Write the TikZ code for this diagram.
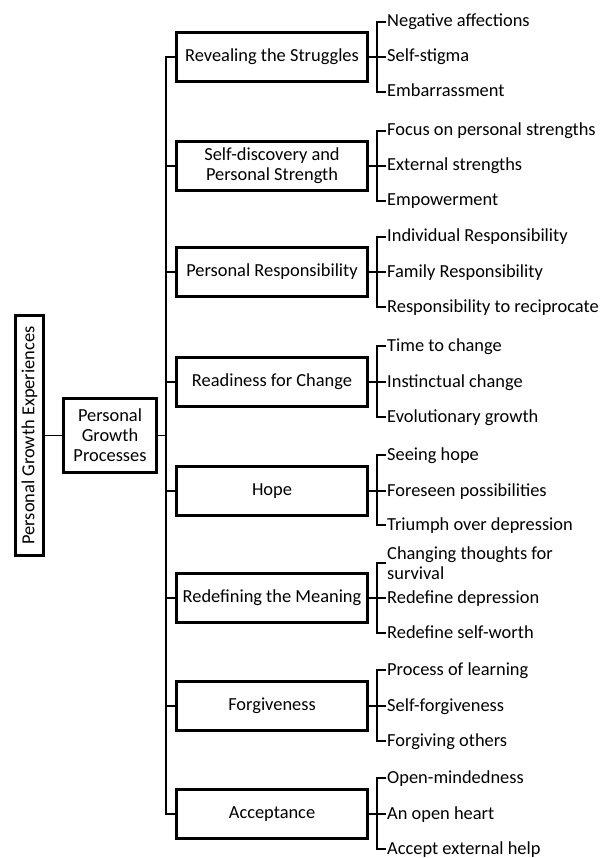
\documentclass[tikz,border=0pt]{standalone}
\usepackage{fontspec}
\setmainfont{Carlito}
\begin{document}
\begin{tikzpicture}[x=1pt,y=-1pt,
    every node/.style={font=\fontsize{18.4}{20}\selectfont},
    catbox/.style={draw,line width=3pt,minimum width=191pt,minimum height=49pt,align=center,inner sep=0pt},
    leaf/.style={anchor=west,inner sep=1pt,text height=13pt,text depth=3pt},
    twoleaf/.style={anchor=west,inner sep=1pt,align=left},
    link/.style={line width=1.3pt}]
    \useasboundingbox (0,0) rectangle (608,858);

    % root and process box
    \node[draw,line width=3pt,rotate=90,minimum width=240pt,minimum height=28pt,inner sep=0pt] (pge) at (29.5,435.5) {Personal Growth Experiences};
    \node[catbox,minimum width=93pt,minimum height=74pt] (pgp) at (110,435.5) {Personal\\Growth\\Processes};
    \draw[link] (pge) -- (pgp);
    \draw[link] (pgp.east) -- ++(8,0);

    % categories
    \node[catbox] (reveal) at (272,57) {Revealing the Struggles};
    \node[catbox] (selfdisc) at (272,166) {Self-discovery and\\Personal Strength};
    \node[catbox] (respons) at (272,272) {Personal Responsibility};
    \node[catbox] (ready) at (272,382) {Readiness for Change};
    \node[catbox] (hope) at (272,491) {Hope};
    \node[catbox] (redef) at (272,598) {Redefining the Meaning};
    \node[catbox] (forgive) at (272,706) {Forgiveness};
    \node[catbox] (accept) at (272,814) {Acceptance};

    \draw[link] (reveal.west) -- ++(-9,0) |- (accept.west);
    \draw[link] (selfdisc.west) -- ++(-9,0);
    \draw[link] (respons.west) -- ++(-9,0);
    \draw[link] (ready.west) -- ++(-9,0);
    \draw[link] (hope.west) -- ++(-9,0);
    \draw[link] (redef.west) -- ++(-9,0);
    \draw[link] (forgive.west) -- ++(-9,0);

    % themes
    \node[leaf] (reveal1) at (386,22) {Negative affections};
    \node[leaf] (reveal2) at (386,57) {Self-stigma};
    \node[leaf] (reveal3) at (386,92) {Embarrassment};
    \draw[link] (reveal) -- (reveal2);
    \draw[link] (reveal1.west) -- ++(-9,0) |- (reveal3.west);

    \node[leaf] (selfdisc1) at (386,131) {Focus on personal strengths};
    \node[leaf] (selfdisc2) at (386,166) {External strengths};
    \node[leaf] (selfdisc3) at (386,201) {Empowerment};
    \draw[link] (selfdisc) -- (selfdisc2);
    \draw[link] (selfdisc1.west) -- ++(-9,0) |- (selfdisc3.west);

    \node[leaf] (respons1) at (386,237) {Individual Responsibility};
    \node[leaf] (respons2) at (386,272) {Family Responsibility};
    \node[leaf] (respons3) at (386,307) {Responsibility to reciprocate};
    \draw[link] (respons) -- (respons2);
    \draw[link] (respons1.west) -- ++(-9,0) |- (respons3.west);

    \node[leaf] (ready1) at (386,346) {Time to change};
    \node[leaf] (ready2) at (386,382) {Instinctual change};
    \node[leaf] (ready3) at (386,417) {Evolutionary growth};
    \draw[link] (ready) -- (ready2);
    \draw[link] (ready1.west) -- ++(-9,0) |- (ready3.west);

    \node[leaf] (hope1) at (386,455) {Seeing hope};
    \node[leaf] (hope2) at (386,491) {Foreseen possibilities};
    \node[leaf] (hope3) at (386,525) {Triumph over depression};
    \draw[link] (hope) -- (hope2);
    \draw[link] (hope1.west) -- ++(-9,0) |- (hope3.west);

    \node[twoleaf] (redef1) at (386,563) {Changing thoughts for\\survival};
    \node[leaf] (redef2) at (386,598) {Redefine depression};
    \node[leaf] (redef3) at (386,633) {Redefine self-worth};
    \draw[link] (redef) -- (redef2);
    \draw[link] (redef1.west) -- ++(-9,0) |- (redef3.west);

    \node[leaf] (forgive1) at (386,670) {Process of learning};
    \node[leaf] (forgive2) at (386,706) {Self-forgiveness};
    \node[leaf] (forgive3) at (386,741) {Forgiving others};
    \draw[link] (forgive) -- (forgive2);
    \draw[link] (forgive1.west) -- ++(-9,0) |- (forgive3.west);

    \node[leaf] (accept1) at (386,778) {Open-mindedness};
    \node[leaf] (accept2) at (386,814) {An open heart};
    \node[leaf] (accept3) at (386,849) {Accept external help};
    \draw[link] (accept) -- (accept2);
    \draw[link] (accept1.west) -- ++(-9,0) |- (accept3.west);

\end{tikzpicture}
\end{document}
